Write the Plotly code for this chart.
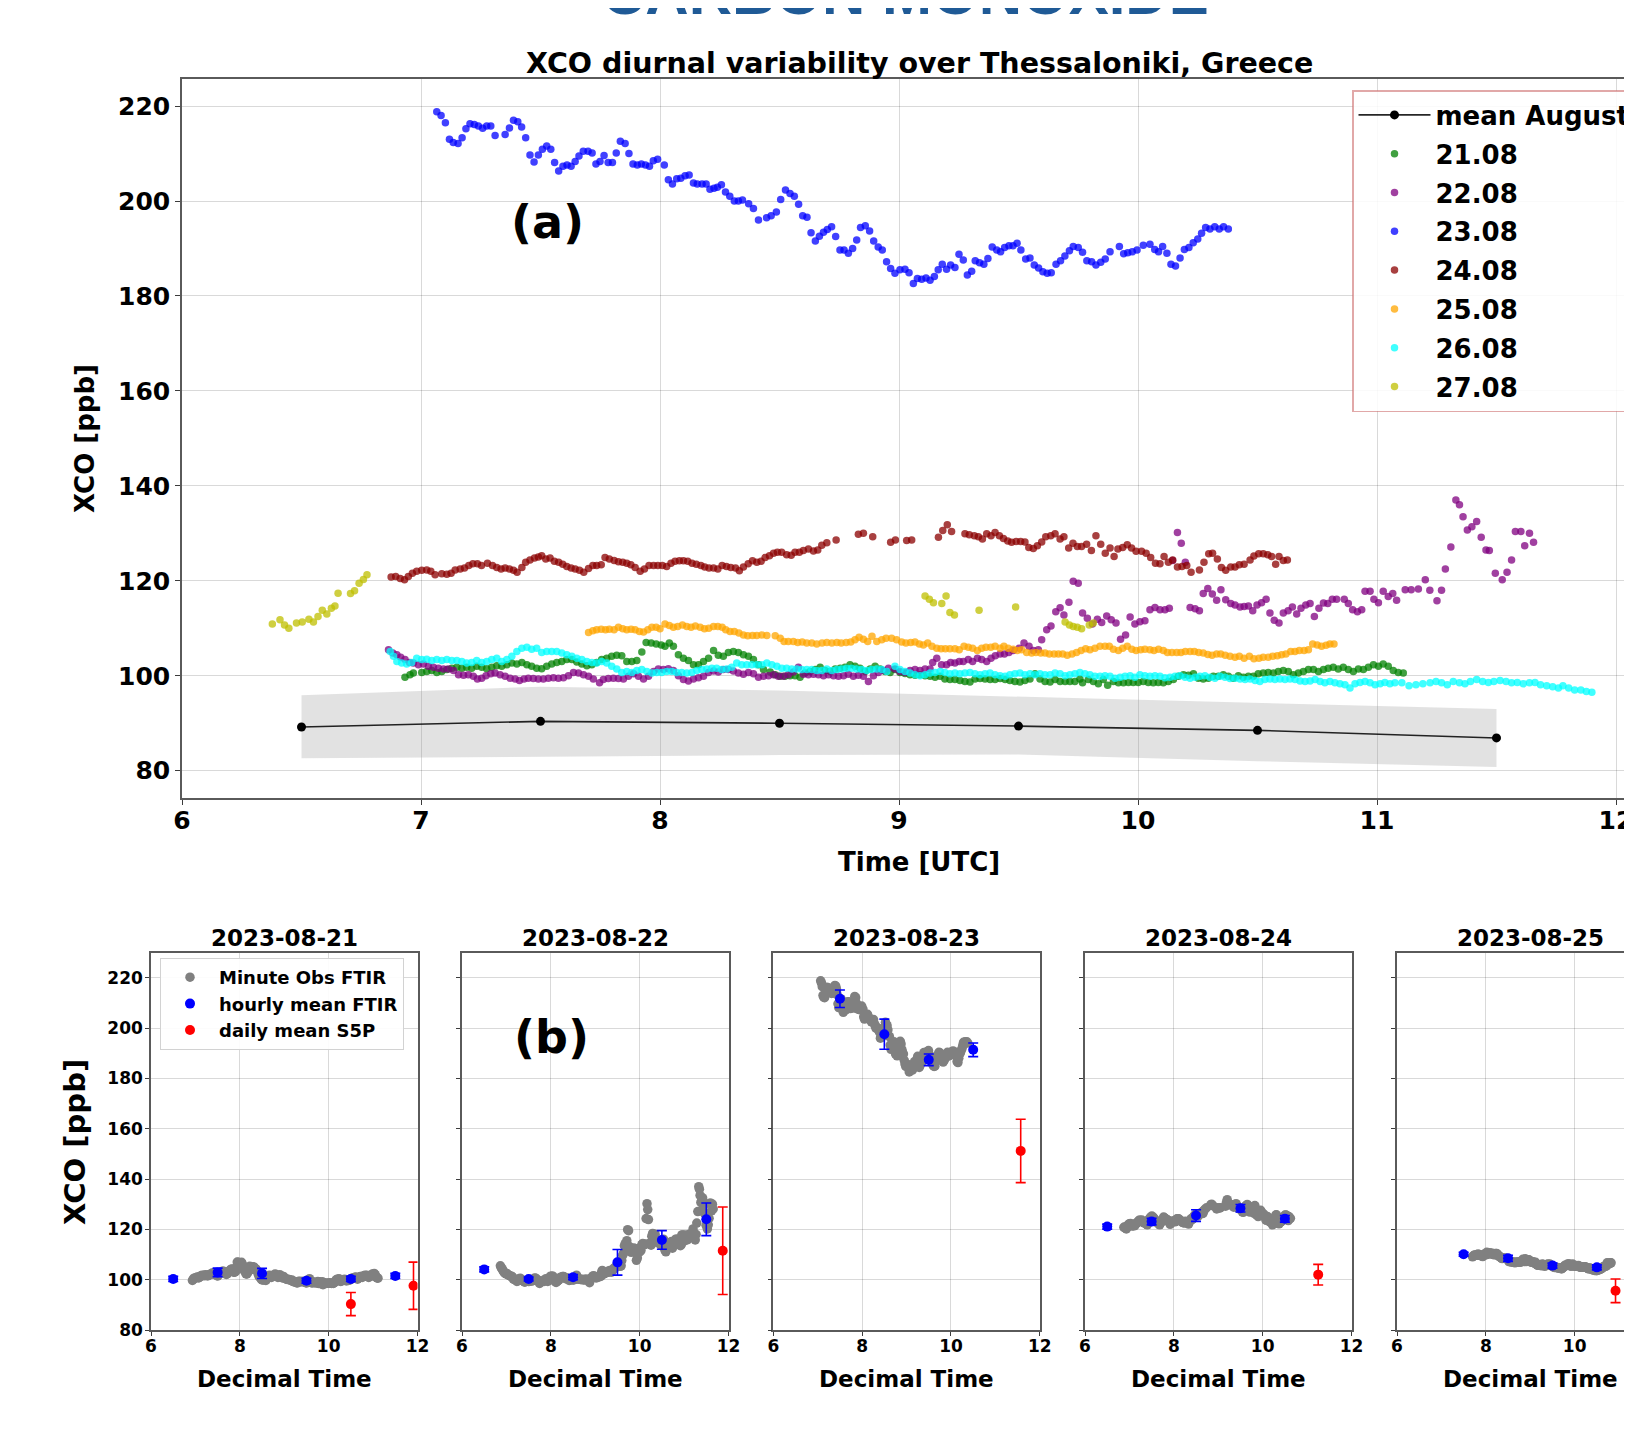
import plotly.graph_objects as go

PAGE_W, PAGE_H = 1632, 1453
OFF = 8  # default page body margin
W, H = PAGE_W - OFF, PAGE_H - OFF
FONT = "DejaVu Sans"

# ---------------- data: panel (a) ----------------
mean_t = [6.5, 7.5, 8.5, 9.5, 10.5, 11.5]
mean_v = [89.2, 90.4, 90.0, 89.4, 88.5, 86.9]
band_upper = [95.9, 97.7, 96.9, 95.6, 94.4, 93.0]
band_lower = [82.6, 83.0, 83.3, 83.4, 82.0, 80.8]

t21 = [6.933,6.954,6.968,7.003,7.024,7.045,7.066,7.087,7.108,7.129,7.150,7.171,7.191,7.212,7.233,7.254,7.275,7.296,7.317,7.338,
       7.359,7.380,7.401,7.422,7.443,7.463,7.484,7.505,7.526,7.547,7.568,7.589,7.610,7.631,7.652,7.673,7.694,7.715,7.735,7.756,
       7.777,7.798,7.819,7.840,7.861,7.882,7.903,7.924,7.942,7.963,7.984,8.005,8.021,8.039,8.056,8.077,8.098,8.119,8.140,8.161,
       8.182,8.203,8.224,8.244,8.265,8.286,8.307,8.328,8.349,8.370,8.391,8.412,8.433,8.461,8.482,8.502,8.523,8.544,8.565,8.586,
       8.607,8.628,8.649,8.670,8.691,8.712,8.733,8.754,8.774,8.795,8.816,8.837,8.858,8.879,8.900,8.921,8.942,8.963,8.983,9.004,
       9.025,9.046,9.067,9.088,9.109,9.130,9.151,9.172,9.192,9.213,9.234,9.255,9.276,9.297,9.318,9.339,9.360,9.381,9.402,9.423,
       9.444,9.464,9.485,9.506,9.527,9.548,9.569,9.590,9.611,9.632,9.653,9.674,9.695,9.715,9.736,9.757,9.768,9.792,9.813,9.834,
       9.855,9.873,9.897,9.918,9.939,9.960,9.980,10.001,10.022,10.043,10.064,10.085,10.106,10.127,10.148,10.169,10.190,10.211,10.232,10.252,
       10.273,10.294,10.315,10.336,10.357,10.378,10.399,10.420,10.441,10.462,10.483,10.503,10.524,10.545,10.566,10.587,10.608,10.629,10.650,10.671,
       10.692,10.713,10.734,10.755,10.776,10.796,10.817,10.838,10.859,10.880,10.901,10.922,10.943,10.964,10.985,11.006,11.026,11.047,11.068,11.089,11.110]
v21 = [99.7,100.2,100.6,100.7,100.9,101.1,100.7,100.9,101.3,101.6,101.8,101.6,101.8,101.6,102.0,101.8,101.5,101.8,102.1,102.0,
       102.3,102.7,102.5,102.8,102.3,102.0,101.6,101.5,102.0,102.5,102.8,103.0,103.4,103.4,102.9,102.5,102.1,102.3,102.8,103.4,
       103.7,104.1,104.3,104.2,103.0,103.0,103.2,105.0,107.0,106.9,106.7,106.5,106.2,106.9,106.2,104.4,103.7,103.2,102.3,102.3,
       103.0,103.7,105.3,104.3,104.1,104.9,105.1,104.9,104.4,104.1,103.4,102.3,101.3,100.8,100.2,99.9,99.9,100.0,100.0,99.7,
       100.6,100.9,101.3,101.8,101.1,100.9,101.4,101.6,101.8,102.3,102.0,101.6,100.9,101.4,102.0,101.4,100.9,100.7,101.3,100.7,
       100.5,100.2,100.1,100.2,100.0,99.9,99.7,99.9,99.3,99.2,99.2,99.0,98.8,98.7,99.3,99.4,99.3,99.2,99.2,99.4,
       99.2,99.0,98.8,98.7,99.0,99.3,100.4,99.3,98.8,98.7,99.2,98.8,98.8,98.8,98.8,99.3,98.5,99.2,98.8,98.3,
       99.2,98.0,98.8,98.5,98.5,98.6,98.6,98.6,98.8,98.6,98.5,98.6,98.5,98.8,99.2,99.9,100.2,100.1,100.4,99.5,
       99.3,99.5,99.9,99.9,100.2,99.9,99.5,100.0,99.7,99.9,99.9,100.4,100.6,100.7,100.6,100.9,101.1,100.9,100.2,100.6,
       100.9,101.3,101.3,100.9,101.3,101.6,101.8,101.4,101.8,101.3,100.9,101.4,101.3,101.8,102.3,102.0,102.5,102.0,101.1,100.7,100.6]

t22 = [6.864,6.882,6.899,6.915,6.933,6.952,6.968,6.989,7.010,7.031,7.052,7.073,7.094,7.115,7.136,7.157,7.178,7.198,7.219,7.236,
       7.254,7.272,7.292,7.310,7.331,7.352,7.373,7.394,7.412,7.431,7.449,7.470,7.491,7.512,7.533,7.554,7.575,7.596,7.617,7.638,
       7.659,7.680,7.701,7.721,7.747,7.763,7.784,7.805,7.826,7.847,7.868,7.889,7.910,7.931,7.952,7.973,7.993,8.014,8.035,8.056,
       8.077,8.098,8.119,8.140,8.161,8.182,8.203,8.224,8.244,8.265,8.286,8.307,8.328,8.349,8.370,8.391,8.412,8.433,8.454,8.475,
       8.495,8.516,8.537,8.558,8.579,8.600,8.621,8.642,8.663,8.684,8.705,8.726,8.747,8.768,8.788,8.809,8.830,8.851,8.872,8.893,
       8.914,8.935,8.956,8.983,9.004,9.025,9.046,9.067,9.088,9.109,9.130,9.141,9.158,9.178,9.199,9.216,9.234,9.252,9.269,9.290,
       9.308,9.328,9.346,9.367,9.385,9.403,9.423,9.441,9.460,9.478,9.503,9.523,9.544,9.562,9.583,9.597,9.618,9.636,9.656,9.674,
       9.690,9.711,9.729,9.750,9.768,9.788,9.809,9.830,9.848,9.869,9.888,9.908,9.927,9.948,9.967,9.987,10.008,10.029,10.050,10.071,
       10.092,10.113,10.131,10.145,10.165,10.181,10.198,10.218,10.239,10.257,10.273,10.292,10.311,10.329,10.347,10.367,10.388,10.406,10.427,10.444,
       10.462,10.480,10.498,10.517,10.536,10.552,10.570,10.590,10.608,10.628,10.646,10.664,10.682,10.702,10.720,10.738,10.757,10.776,10.794,10.813,
       10.831,10.863,10.880,10.898,10.918,10.936,10.950,10.971,10.987,11.006,11.026,11.047,11.066,11.082,11.118,11.143,11.173,11.202,11.221,11.251,
       11.270,11.286,11.309,11.330,11.345,11.360,11.378,11.397,11.417,11.436,11.456,11.470,11.495,11.524,11.544,11.563,11.579,11.602,11.618,11.638,11.655]
v22 = [105.5,104.8,104.4,103.9,103.4,102.8,102.7,102.3,102.5,102.0,101.8,101.6,101.4,101.4,101.1,100.2,100.1,100.2,99.9,99.3,
       99.5,100.0,100.4,100.6,100.2,99.9,99.5,99.3,99.0,99.3,99.5,99.4,99.3,99.3,99.5,99.6,99.5,99.6,100.0,100.7,
       100.6,100.2,99.9,99.3,98.5,99.2,99.4,99.5,99.4,99.3,99.9,100.4,99.9,99.3,99.9,100.9,101.4,101.3,101.5,101.1,
       100.0,99.2,98.9,99.3,99.6,99.9,100.7,101.0,100.8,101.3,101.3,101.0,100.6,100.3,100.7,100.4,99.7,99.9,100.0,100.2,
       99.9,99.9,100.2,100.8,101.8,100.3,100.2,100.3,100.2,100.0,100.2,100.0,99.9,100.0,100.3,99.9,100.1,99.9,98.8,100.0,
       100.7,101.1,101.6,101.4,100.9,100.7,101.1,101.3,101.1,101.4,101.4,102.8,103.7,102.3,102.3,102.8,102.7,103.0,103.0,103.4,
       103.0,103.7,103.4,103.0,103.7,104.2,104.6,104.6,104.9,105.3,105.8,106.9,106.2,105.3,105.5,107.6,109.7,110.5,113.5,114.3,
       112.8,115.5,119.9,119.5,113.2,112.1,110.9,111.9,111.2,112.6,111.8,111.1,107.7,108.6,112.4,110.9,111.4,111.6,113.9,114.4,
       113.9,113.9,114.2,124.3,130.2,127.9,123.9,114.4,114.1,113.7,117.3,118.4,117.2,115.9,118.1,116.0,115.2,114.9,114.5,114.6,
       114.7,113.7,114.9,115.4,116.1,113.2,111.7,111.1,113.2,113.7,114.5,113.0,114.2,114.9,115.2,112.5,114.2,115.3,115.2,116.1,
       116.1,116.1,115.2,113.9,113.5,113.9,117.8,117.8,116.1,115.4,117.8,116.7,117.3,115.9,118.1,118.1,118.3,120.2,118.0,115.8,
       118.0,122.5,127.1,137.0,136.0,133.5,130.7,131.4,132.5,129.2,126.5,126.4,121.6,120.2,121.8,124.4,130.4,130.4,127.4,130.0,128.1]

t23 = [7.066,7.084,7.102,7.119,7.135,7.155,7.172,7.188,7.205,7.223,7.240,7.258,7.275,7.292,7.310,7.352,7.370,7.387,7.405,7.421,
       7.438,7.456,7.473,7.491,7.508,7.526,7.543,7.559,7.576,7.594,7.611,7.628,7.645,7.661,7.679,7.699,7.716,7.732,7.749,7.766,
       7.783,7.801,7.817,7.834,7.854,7.870,7.887,7.905,7.922,7.939,7.956,7.972,7.990,8.018,8.035,8.052,8.070,8.087,8.105,8.122,
       8.140,8.156,8.176,8.193,8.209,8.226,8.240,8.257,8.274,8.292,8.311,8.328,8.345,8.371,8.391,8.412,8.446,8.465,8.487,8.505,
       8.525,8.544,8.562,8.580,8.597,8.615,8.632,8.650,8.667,8.684,8.700,8.718,8.735,8.753,8.770,8.788,8.806,8.823,8.839,8.859,
       8.877,8.894,8.913,8.930,8.948,8.965,8.983,9.004,9.025,9.042,9.060,9.077,9.095,9.113,9.130,9.148,9.164,9.181,9.199,9.216,
       9.234,9.251,9.269,9.286,9.304,9.319,9.337,9.355,9.372,9.390,9.409,9.425,9.442,9.460,9.477,9.494,9.510,9.530,9.548,9.566,
       9.584,9.602,9.620,9.637,9.657,9.676,9.694,9.713,9.729,9.750,9.768,9.786,9.806,9.824,9.844,9.863,9.883,9.922,9.940,9.957,
       9.976,9.996,10.022,10.050,10.070,10.086,10.103,10.121,10.138,10.157,10.176,10.194,10.213,10.231,10.250,10.266,10.283,10.301,10.321,10.340,
       10.358,10.378]
v23 = [218.8,218.0,216.5,213.0,212.3,212.1,213.3,215.2,216.3,216.1,215.8,215.3,215.8,215.8,213.8,214.0,215.4,217.0,216.7,215.6,
       213.3,209.7,208.2,209.7,210.9,211.6,210.9,208.1,206.3,207.3,207.6,207.3,208.3,209.5,210.5,210.5,210.1,207.8,208.3,209.6,
       208.1,208.1,210.1,212.6,212.1,210.0,207.8,207.6,207.8,207.6,207.3,208.5,208.8,207.6,204.5,203.6,204.7,204.8,205.3,205.5,
       203.8,203.6,203.6,203.6,202.5,202.7,202.9,203.4,201.9,201.0,200.0,200.0,200.2,199.4,198.4,196.0,196.5,196.9,197.7,200.3,
       202.3,201.6,201.0,199.3,196.9,196.6,193.3,191.6,192.6,193.4,194.0,194.6,192.5,189.7,189.7,189.0,190.0,191.8,194.4,194.8,
       193.7,191.6,190.3,189.7,187.2,185.8,184.8,185.5,185.6,184.9,182.6,183.7,183.5,183.8,183.3,184.1,185.5,186.7,185.6,186.5,
       186.0,188.8,187.6,184.4,185.2,187.4,187.0,186.7,187.9,190.3,189.7,189.3,190.2,190.6,190.6,191.1,189.7,187.8,188.0,186.5,
       185.9,185.1,184.8,184.9,186.7,187.4,188.4,189.5,190.4,190.2,189.2,187.4,187.2,186.5,187.1,187.8,189.3,190.4,188.9,189.1,
       189.3,189.7,190.7,190.9,189.8,189.3,190.4,189.0,186.7,186.3,188.0,189.8,190.2,191.2,192.0,193.2,194.4,194.1,194.6,194.1,
       194.6,194.1]

t24 = [6.875,6.894,6.913,6.931,6.947,6.964,6.982,7.003,7.024,7.041,7.059,7.087,7.108,7.126,7.143,7.164,7.182,7.200,7.217,7.236,
       7.253,7.278,7.299,7.317,7.335,7.352,7.370,7.387,7.402,7.422,7.438,7.456,7.475,7.491,7.505,7.522,7.540,7.558,7.576,7.593,
       7.610,7.628,7.645,7.663,7.681,7.701,7.719,7.735,7.754,7.770,7.788,7.808,7.826,7.844,7.861,7.878,7.896,7.917,7.935,7.954,
       7.973,7.991,8.010,8.028,8.046,8.063,8.081,8.098,8.116,8.134,8.152,8.171,8.187,8.205,8.224,8.242,8.260,8.278,8.296,8.316,
       8.332,8.349,8.369,8.387,8.405,8.423,8.440,8.458,8.475,8.491,8.509,8.530,8.549,8.565,8.583,8.600,8.621,8.642,8.660,8.677,
       8.698,8.737,8.830,8.851,8.890,8.965,8.985,9.032,9.053,9.165,9.183,9.202,9.220,9.276,9.294,9.315,9.332,9.349,9.367,9.385,
       9.402,9.420,9.437,9.455,9.471,9.490,9.509,9.527,9.543,9.562,9.579,9.597,9.614,9.635,9.653,9.674,9.690,9.710,9.728,9.746,
       9.764,9.785,9.805,9.824,9.844,9.863,9.883,9.900,9.916,9.936,9.955,9.973,9.992,10.015,10.034,10.053,10.073,10.092,10.109,10.127,
       10.145,10.165,10.184,10.204,10.222,10.257,10.276,10.296,10.312,10.332,10.349,10.367,10.388,10.406,10.424,10.444,10.469,10.485,10.505,10.524,
       10.543,10.559,10.576,10.590,10.608,10.625]
v24 = [120.8,120.9,120.5,120.2,120.9,121.6,122.0,122.2,122.3,122.0,121.3,121.5,121.4,121.6,122.3,122.5,122.7,123.2,123.6,123.6,
       123.2,123.7,123.2,122.8,122.5,122.7,122.5,122.2,121.8,122.8,123.9,124.4,124.8,125.0,125.3,124.6,124.8,124.1,123.9,123.5,
       123.0,122.7,122.5,122.2,121.8,122.6,123.2,123.2,123.4,124.9,124.6,124.3,124.0,123.9,123.7,123.4,122.8,122.0,122.5,123.2,
       123.2,123.2,123.2,123.0,123.7,124.1,124.2,124.2,124.1,123.7,123.5,123.2,122.9,122.7,122.7,122.5,123.2,123.0,122.8,122.7,
       122.1,122.9,123.6,124.2,123.9,124.1,124.9,125.3,125.8,126.0,126.0,125.5,125.4,126.0,126.0,126.4,126.7,126.3,126.5,127.5,
       128.0,128.6,129.8,130.0,129.3,128.1,128.6,128.5,128.6,129.2,130.6,131.8,130.4,129.9,129.7,129.5,129.3,128.8,129.9,129.5,
       130.2,129.5,128.9,128.4,128.1,128.3,128.3,128.2,127.0,126.8,127.4,128.2,129.3,129.5,129.9,128.8,129.3,126.9,127.9,127.2,
       127.2,127.7,126.4,129.5,127.7,125.8,126.9,125.1,126.7,127.0,127.6,126.9,126.2,126.2,125.8,124.9,123.7,123.6,125.1,123.9,
       124.4,122.9,123.0,123.2,121.8,122.3,123.9,125.7,125.8,124.6,122.8,122.2,122.9,122.9,123.4,123.5,124.4,125.2,125.7,125.7,
       125.5,125.1,123.5,125.1,124.3,124.4]

t25 = [7.701,7.719,7.735,7.754,7.772,7.788,7.808,7.826,7.844,7.861,7.879,7.896,7.914,7.931,7.949,7.966,7.984,8.000,8.021,8.039,
       8.056,8.074,8.094,8.112,8.130,8.148,8.168,8.186,8.204,8.224,8.242,8.260,8.275,8.293,8.311,8.330,8.349,8.367,8.387,8.405,
       8.426,8.447,8.482,8.503,8.519,8.537,8.558,8.576,8.595,8.614,8.635,8.656,8.678,8.698,8.719,8.740,8.758,8.779,8.798,8.816,
       8.833,8.851,8.869,8.887,8.907,8.928,8.946,8.969,8.990,9.011,9.029,9.049,9.067,9.085,9.102,9.120,9.138,9.158,9.176,9.194,
       9.213,9.234,9.252,9.272,9.290,9.308,9.328,9.346,9.364,9.384,9.402,9.423,9.439,9.457,9.478,9.495,9.513,9.534,9.555,9.573,
       9.593,9.611,9.629,9.649,9.667,9.685,9.704,9.724,9.743,9.762,9.781,9.799,9.820,9.841,9.862,9.880,9.897,9.918,9.936,9.955,
       9.974,9.992,10.011,10.029,10.050,10.067,10.086,10.106,10.123,10.142,10.162,10.180,10.198,10.218,10.236,10.254,10.273,10.292,10.310,10.329,
       10.346,10.365,10.385,10.406,10.424,10.444,10.466,10.485,10.506,10.524,10.545,10.564,10.583,10.601,10.619,10.639,10.657,10.675,10.695,10.713,
       10.731,10.750,10.768,10.787,10.803,10.820]
v25 = [109.1,109.5,109.7,109.8,109.7,109.8,109.7,110.2,109.9,109.7,109.8,109.7,109.3,109.2,109.7,110.2,110.2,109.9,110.9,110.6,
       110.2,110.4,110.7,110.4,110.2,110.5,110.2,109.9,110.0,110.4,110.4,110.2,109.7,109.3,109.3,109.0,108.6,108.4,108.5,108.5,
       108.6,108.5,108.4,107.9,107.2,107.2,107.2,107.0,107.1,106.9,106.9,106.7,106.9,107.0,106.9,107.0,106.9,107.0,107.1,107.6,
       108.1,107.7,107.2,108.3,107.2,107.6,107.9,107.9,107.6,107.1,106.9,107.0,107.1,106.7,106.5,106.9,106.2,105.8,105.7,105.7,
       105.7,105.7,105.5,106.2,106.0,105.8,105.3,105.8,106.0,106.0,106.2,105.8,106.2,105.8,105.6,105.3,105.5,104.9,104.8,104.9,
       104.8,104.8,104.6,104.6,104.6,104.6,104.3,104.6,104.9,105.3,105.7,105.5,105.8,106.2,106.2,106.2,105.6,105.3,105.8,106.2,
       105.6,105.3,105.5,105.6,105.5,105.3,105.6,105.3,104.9,104.9,104.9,104.9,105.1,105.1,105.1,104.9,104.8,104.5,104.3,104.6,
       104.6,104.3,104.1,103.9,104.1,103.7,104.1,103.6,103.7,103.9,103.9,104.1,104.2,104.4,104.6,105.1,105.1,105.3,105.3,105.5,
       106.7,106.5,106.2,106.4,106.7,106.7]

t26 = [6.871,6.885,6.899,6.919,6.940,6.961,6.982,7.003,7.024,7.045,7.066,7.087,7.108,7.129,7.150,7.171,7.191,7.212,7.233,7.254,
       7.275,7.296,7.317,7.338,7.359,7.380,7.401,7.422,7.443,7.463,7.484,7.505,7.526,7.547,7.568,7.589,7.610,7.631,7.652,7.673,
       7.694,7.715,7.735,7.756,7.777,7.798,7.819,7.840,7.861,7.882,7.903,7.924,7.945,7.966,7.986,8.007,8.028,8.049,8.070,8.091,
       8.112,8.133,8.154,8.175,8.196,8.217,8.237,8.258,8.279,8.300,8.321,8.342,8.363,8.384,8.405,8.426,8.447,8.468,8.489,8.510,
       8.530,8.551,8.572,8.593,8.614,8.635,8.656,8.677,8.698,8.719,8.740,8.761,8.781,8.802,8.823,8.844,8.865,8.886,8.907,8.928,
       8.949,8.983,9.004,9.025,9.046,9.067,9.088,9.109,9.130,9.151,9.172,9.192,9.213,9.234,9.255,9.276,9.297,9.318,9.339,9.360,
       9.381,9.402,9.423,9.444,9.464,9.485,9.506,9.527,9.548,9.569,9.590,9.611,9.632,9.653,9.674,9.695,9.715,9.736,9.757,9.778,
       9.799,9.820,9.841,9.862,9.883,9.904,9.925,9.946,9.967,9.987,10.008,10.029,10.050,10.071,10.092,10.113,10.134,10.155,10.176,10.197,
       10.218,10.239,10.259,10.280,10.301,10.322,10.343,10.364,10.385,10.406,10.427,10.448,10.469,10.490,10.510,10.531,10.552,10.573,10.594,10.615,
       10.636,10.657,10.678,10.699,10.720,10.741,10.762,10.782,10.803,10.824,10.845,10.866,10.887,10.908,10.929,10.950,10.971,10.992,11.013,11.033,
       11.054,11.075,11.104,11.134,11.163,11.192,11.222,11.247,11.270,11.294,11.319,11.345,11.368,11.391,11.417,11.442,11.466,11.489,11.515,11.540,
       11.563,11.587,11.612,11.638,11.661,11.684,11.710,11.735,11.759,11.778,11.802,11.827,11.853,11.876,11.899]
v26 = [105.1,104.1,103.0,102.7,102.5,102.8,103.7,103.4,103.5,103.2,103.4,103.2,103.4,103.2,103.2,103.0,102.7,102.8,103.2,102.8,
       103.0,103.4,103.7,103.0,103.4,104.1,105.1,105.8,106.0,105.6,105.8,104.9,105.1,105.1,105.1,104.8,104.4,104.1,103.7,103.4,
       103.0,102.8,102.7,103.0,102.7,102.0,101.4,100.7,100.9,100.7,101.1,101.3,100.9,100.6,100.7,100.7,100.9,100.9,100.7,100.7,
       100.6,100.7,101.1,101.3,101.4,101.6,101.6,101.3,101.4,101.8,102.7,102.3,102.3,102.3,102.3,102.3,102.7,102.3,102.0,101.6,
       101.6,101.4,101.4,101.3,101.3,101.3,101.1,101.1,101.4,101.1,101.3,101.4,101.6,101.6,101.4,101.3,101.1,101.3,101.4,101.3,
       100.9,102.0,101.3,100.9,100.6,100.2,100.0,100.2,100.6,100.7,100.9,100.7,100.4,100.6,100.4,100.6,100.7,100.4,100.2,100.4,
       100.6,100.2,100.0,99.9,100.2,100.4,100.6,100.2,100.4,100.2,100.4,100.2,100.2,100.6,100.4,100.0,100.2,100.4,100.7,100.4,
       100.2,99.9,99.9,100.0,99.9,99.5,99.7,99.9,100.0,99.7,100.2,100.0,99.9,100.0,99.9,99.6,99.7,99.9,100.0,99.7,
       99.5,99.7,99.9,100.0,99.7,99.5,99.9,99.7,99.4,99.5,99.3,99.2,99.3,99.0,98.8,99.2,99.3,99.2,99.3,99.2,
       99.3,99.2,98.9,98.8,98.9,99.2,98.8,98.5,98.8,98.5,98.3,98.1,97.4,98.3,98.6,98.8,98.5,98.1,98.3,98.6,
       98.3,98.5,98.5,97.9,98.1,98.3,98.5,98.8,98.5,98.1,98.8,98.5,98.3,98.8,99.2,98.8,98.6,98.8,99.0,98.8,
       98.5,98.6,98.3,98.5,98.6,98.1,97.9,97.7,97.4,97.9,97.4,97.0,97.0,96.7,96.5]

t27 = [6.378,6.410,6.429,6.447,6.479,6.503,6.531,6.550,6.569,6.587,6.606,6.625,6.640,6.653,6.705,6.722,6.741,6.759,6.774,
       9.109,9.127,9.144,9.179,9.197,9.213,9.232,9.335,9.488,9.695,9.713,9.729,9.746,9.764,9.796,9.813]
v27 = [110.9,111.8,110.7,110.0,111.1,111.3,111.9,111.3,112.5,113.8,113.0,114.2,114.7,117.4,117.3,117.9,119.5,120.3,121.3,
       116.8,116.1,115.4,115.2,116.8,113.3,112.8,113.8,114.5,111.3,110.7,110.4,110.2,109.9,110.7,111.1]

day_names = ["21.08", "22.08", "23.08", "24.08", "25.08", "26.08", "27.08"]
day_colors = ["rgb(0,128,0)", "rgb(128,0,128)", "rgb(0,0,255)", "rgb(139,0,0)",
              "rgb(255,165,0)", "rgb(0,255,255)", "rgb(191,191,0)"]
day_t = [t21, t22, t23, t24, t25, t26, t27]
day_v = [v21, v22, v23, v24, v25, v26, v27]

# ---------------- data: panel (b) ----------------
sub_titles = ["2023-08-21", "2023-08-22", "2023-08-23", "2023-08-24", "2023-08-25"]
hourly_t = [[6.5, 7.5, 8.5, 9.5, 10.5, 11.5],
            [6.5, 7.5, 8.5, 9.5, 10.5, 11.5],
            [7.5, 8.5, 9.5, 10.5],
            [6.5, 7.5, 8.5, 9.5, 10.5],
            [7.5, 8.5, 9.5, 10.5]]
hourly_v = [[100.3, 102.9, 102.5, 99.6, 100.3, 101.5],
            [104.1, 100.3, 101.0, 106.9, 115.8, 124.0],
            [211.7, 197.6, 187.4, 191.4],
            [121.1, 123.1, 125.5, 128.4, 124.2],
            [110.1, 108.5, 105.6, 104.9]]
hourly_err = [[1.0, 1.7, 2.0, 1.0, 1.0, 1.0],
              [1.0, 0.8, 1.0, 5.1, 3.7, 6.5],
              [3.5, 6.0, 2.3, 2.7],
              [1.0, 1.3, 2.3, 1.5, 1.3],
              [0.8, 1.2, 1.0, 1.0]]
s5p_t = [[10.5, 11.91], [11.87], [11.57], [11.25], [10.92]]
s5p_v = [[90.3, 97.6], [111.5], [151.2], [102.0], [95.6]]
s5p_err = [[4.6, 9.4], [17.4], [12.6], [4.1], [4.7]]

# ---------------- layout helpers (page pixel -> paper) ----------------
def px(xp):
    return (xp - OFF) / W

def py(yp):
    return 1 - (yp - OFF) / H

fig = go.Figure()

# panel (a)
fig.add_trace(go.Scatter(x=mean_t, y=band_lower, mode="lines", line=dict(width=0),
                         showlegend=False, hoverinfo="skip", xaxis="x", yaxis="y"))
fig.add_trace(go.Scatter(x=mean_t, y=band_upper, mode="lines", line=dict(width=0),
                         fill="tonexty", fillcolor="rgba(150,150,150,0.28)",
                         showlegend=False, hoverinfo="skip", xaxis="x", yaxis="y"))
fig.add_trace(go.Scatter(x=mean_t, y=mean_v, mode="lines+markers", name="mean August",
                         line=dict(color="rgba(0,0,0,0.85)", width=1.6),
                         marker=dict(color="black", size=9), legend="legend",
                         legendgroup="g0", xaxis="x", yaxis="y"))
for i in range(7):
    fig.add_trace(go.Scatter(x=day_t[i], y=day_v[i], mode="markers", name=day_names[i],
                             marker=dict(color=day_colors[i], size=7.5, opacity=0.75, line=dict(width=0)),
                             legend="legend", legendgroup="g%d" % (i + 1), xaxis="x", yaxis="y"))

# panel (b)
sub_gray = [t21, t22, t23, t24, t25]
sub_gray_v = [v21, v22, v23, v24, v25]
for k in range(5):
    ax = str(k + 2)
    first = (k == 0)
    fig.add_trace(go.Scatter(x=sub_gray[k], y=sub_gray_v[k], mode="markers", name="Minute Obs FTIR",
                             marker=dict(color="rgb(128,128,128)", size=9.5, line=dict(width=0)),
                             showlegend=first, legend="legend2", xaxis="x" + ax, yaxis="y" + ax))
    fig.add_trace(go.Scatter(x=hourly_t[k], y=hourly_v[k], mode="markers", name="hourly mean FTIR",
                             marker=dict(color="rgb(0,0,255)", size=10),
                             error_y=dict(type="data", array=hourly_err[k], color="rgb(0,0,255)",
                                          thickness=1.6, width=5),
                             showlegend=first, legend="legend2", xaxis="x" + ax, yaxis="y" + ax))
    fig.add_trace(go.Scatter(x=s5p_t[k], y=s5p_v[k], mode="markers", name="daily mean S5P",
                             marker=dict(color="rgb(255,0,0)", size=10),
                             error_y=dict(type="data", array=s5p_err[k], color="rgb(255,0,0)",
                                          thickness=1.6, width=5),
                             showlegend=first, legend="legend2", xaxis="x" + ax, yaxis="y" + ax))

axis_common = dict(showgrid=True, gridcolor="rgba(0,0,0,0.15)", gridwidth=1, zeroline=False,
                   showline=True, mirror=True, linecolor="rgb(90,90,90)", linewidth=1.5,
                   ticks="outside", tickcolor="rgb(60,60,60)", ticklabeloverflow="allow")

layout = dict(
    width=W, height=H, paper_bgcolor="white", plot_bgcolor="white",
    margin=dict(l=0, r=0, t=0, b=0, autoexpand=False),
    font=dict(family=FONT, color="black", weight="bold"),
    xaxis=dict(domain=[px(182), 1.0], range=[6, 6 + (PAGE_W - 182) / 239.0], tickvals=[6, 7, 8, 9, 10, 11, 12],
               tickfont=dict(size=25, weight="bold"), anchor="y", ticklen=5, ticklabelstandoff=-6, **axis_common),
    yaxis=dict(domain=[py(798), py(79)], range=[74.25, 225.7], tickvals=list(range(80, 221, 20)),
               tickfont=dict(size=25, weight="bold"), anchor="x", ticklen=5, **axis_common),
    legend=dict(x=px(1352), y=py(90), xanchor="left", yanchor="top",
                bgcolor="rgba(255,255,255,0.85)", bordercolor="rgba(205,110,110,0.6)", borderwidth=1.5,
                font=dict(size=26, weight="bold", family=FONT), traceorder="grouped", tracegroupgap=2,
                itemwidth=72),
    legend2=dict(x=px(160), y=py(958), xanchor="left", yanchor="top",
                 bgcolor="rgba(255,255,255,0.9)", bordercolor="rgb(210,210,210)", borderwidth=1,
                 font=dict(size=18, weight="bold", family=FONT), itemwidth=48),
    showlegend=True,
)

sub_left = [151, 462, 773.3, 1085, 1397]
sub_w = 266.5
for k in range(5):
    ax = str(k + 2)
    x0 = sub_left[k]
    x1 = min(x0 + sub_w, PAGE_W)
    xmax = 6 + (x1 - x0) / sub_w * 6
    layout["xaxis" + ax] = dict(domain=[px(x0), px(x1)], range=[6, xmax], tickvals=[6, 8, 10, 12],
                                tickfont=dict(size=17, weight="bold"), anchor="y" + ax, ticklen=4,
                                ticklabelstandoff=-4, **axis_common)
    layout["yaxis" + ax] = dict(domain=[py(1330), py(952.7)], range=[80, 230],
                                tickvals=list(range(80, 221, 20)), showticklabels=(k == 0),
                                tickfont=dict(size=17, weight="bold"), anchor="x" + ax, ticklen=4,
                                ticklabelstandoff=-1, **axis_common)

ann = []
ann.append(dict(text="CARBON MONOXIDE", x=px(905), y=1.0103, xref="paper", yref="paper",
                xanchor="center", yanchor="middle", showarrow=False,
                font=dict(family="Liberation Sans", size=60, color="rgb(31,90,150)", weight="bold")))
ann.append(dict(text="XCO diurnal variability over Thessaloniki, Greece", x=px(919), y=py(63),
                xref="paper", yref="paper", xanchor="center", yanchor="middle", showarrow=False,
                font=dict(size=28.5, weight="bold")))
ann.append(dict(text="(a)", x=px(547), y=py(222), xref="paper", yref="paper", xanchor="center",
                yanchor="middle", showarrow=False, font=dict(size=46, weight="bold")))
ann.append(dict(text="(b)", x=px(551), y=py(1037), xref="paper", yref="paper", xanchor="center",
                yanchor="middle", showarrow=False, font=dict(size=46, weight="bold")))
ann.append(dict(text="Time [UTC]", x=px(919), y=py(862), xref="paper", yref="paper", xanchor="center",
                yanchor="middle", showarrow=False, font=dict(size=26, weight="bold")))
ann.append(dict(text="XCO [ppb]", x=px(85), y=py(439), xref="paper", yref="paper", xanchor="center",
                yanchor="middle", showarrow=False, textangle=-90, font=dict(size=26, weight="bold")))
ann.append(dict(text="XCO [ppb]", x=px(75), y=py(1142), xref="paper", yref="paper", xanchor="center",
                yanchor="middle", showarrow=False, textangle=-90, font=dict(size=29, weight="bold")))
for k in range(5):
    cx = sub_left[k] + sub_w / 2
    ann.append(dict(text=sub_titles[k], x=px(cx), y=py(938), xref="paper", yref="paper",
                    xanchor="center", yanchor="middle", showarrow=False, font=dict(size=23, weight="bold")))
    ann.append(dict(text="Decimal Time", x=px(cx), y=py(1379), xref="paper", yref="paper",
                    xanchor="center", yanchor="middle", showarrow=False, font=dict(size=23, weight="bold")))
layout["annotations"] = ann

fig.update_layout(**layout)
fig.write_html("out.html")
